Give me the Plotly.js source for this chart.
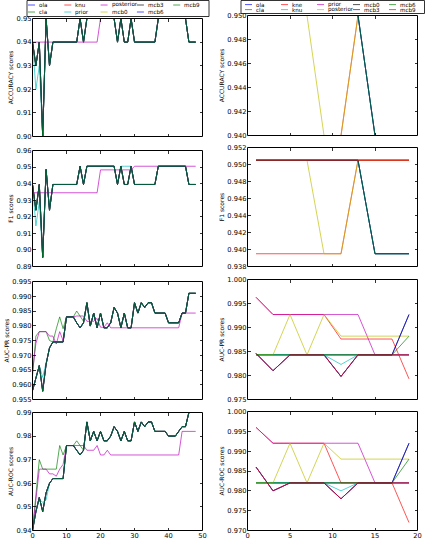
<!DOCTYPE html>
<html>
<head>
<meta charset="utf-8">
<script src="https://cdn.plot.ly/plotly-3.0.1.min.js"></script>
<style>
html, body { margin: 0; padding: 0; background: #fff; }
#chart { width: 425px; height: 544px; }
</style>
</head>
<body>
<div id="chart"></div>
<script>
// ---- Left figure: scores over 49 steps ----
const leftX = [0,1,2,3,4,5,6,7,8,9,10,11,12,13,14,15,16,17,18,19,20,21,22,23,24,25,26,27,28,29,30,31,32,33,34,35,36,37,38,39,40,41,42,43,44,45,46,47,48];
const leftNames = ['ola','cla','knu','prior','posterior','mcb0','mcb3','mcb6','mcb9'];

const accMain = [0.94,0.93,0.94,0.90,0.95,0.93,0.94,0.94,0.94,0.94,
  0.94,0.94,0.94,0.94,0.95,0.94,0.95,0.95,0.95,0.95,
  0.95,0.95,0.95,0.95,0.95,0.94,0.95,0.94,0.94,0.95,
  0.94,0.94,0.94,0.94,0.94,0.94,0.94,0.95,0.95,0.95,
  0.95,0.95,0.95,0.95,0.95,0.95,0.94,0.94,0.94];
const accPrior = [0.94,0.92,0.93,0.90,0.95,0.93,0.94,0.94,0.94,0.94,
  0.94,0.94,0.94,0.94,0.95,0.94,0.95,0.95,0.95,0.95,
  0.95,0.95,0.95,0.95,0.95,0.94,0.95,0.95,0.95,0.95,
  0.94,0.94,0.94,0.94,0.94,0.94,0.94,0.95,0.95,0.95,
  0.95,0.95,0.95,0.95,0.95,0.95,0.94,0.94,0.94];
const accPosterior = [0.94,0.94,0.94,0.94,0.94,0.94,0.94,0.94,0.94,0.94,
  0.94,0.94,0.94,0.94,0.94,0.94,0.94,0.94,0.94,0.94,
  0.95,0.95,0.95,0.95,0.95,0.95,0.95,0.95,0.95,0.95,
  0.95,0.95,0.95,0.95,0.95,0.95,0.95,0.95,0.95,0.95,
  0.95,0.95,0.95,0.95,0.95,0.95,0.95,0.95,0.95];

const f1Main = [0.9395,0.924,0.9395,0.8955,0.9485,0.924,0.9395,0.9395,0.9395,0.9395,
  0.9395,0.9395,0.9395,0.9395,0.9505,0.9395,0.9505,0.9505,0.9505,0.9505,
  0.9505,0.9505,0.9505,0.9505,0.9505,0.9395,0.9505,0.9395,0.9395,0.9505,
  0.9395,0.9395,0.9395,0.9395,0.9395,0.9395,0.9395,0.9505,0.9505,0.9505,
  0.9505,0.9505,0.9505,0.9505,0.9505,0.9505,0.9395,0.9395,0.9395];
const f1Prior = [0.9395,0.9145,0.929,0.8955,0.9485,0.924,0.9395,0.9395,0.9395,0.9395,
  0.9395,0.9395,0.9395,0.9395,0.9505,0.9395,0.9505,0.9505,0.9505,0.9505,
  0.9505,0.9505,0.9505,0.9505,0.9505,0.9395,0.9505,0.9505,0.9505,0.9505,
  0.9395,0.9395,0.9395,0.9395,0.9395,0.9395,0.9395,0.9505,0.9505,0.9505,
  0.9505,0.9505,0.9505,0.9505,0.9505,0.9505,0.9395,0.9395,0.9395];
const f1Posterior = [0.9345,0.9345,0.9345,0.9345,0.9345,0.9345,0.9345,0.9345,0.9345,0.9345,
  0.9345,0.9345,0.9345,0.9345,0.9345,0.9345,0.9345,0.9345,0.9345,0.9345,
  0.9483,0.9483,0.9483,0.9483,0.9483,0.9483,0.9483,0.9483,0.9483,0.9483,
  0.9505,0.9505,0.9505,0.9505,0.9505,0.9505,0.9505,0.9505,0.9505,0.9505,
  0.9505,0.9505,0.9505,0.9505,0.9505,0.9505,0.9505,0.9505,0.9505];

const prMain = [0.958,0.9625,0.9665,0.9578,0.967,0.9725,0.9745,0.9745,0.9745,0.9745,
  0.983,0.983,0.983,0.981,0.9793,0.981,0.9878,0.9799,0.9843,0.9793,
  0.9843,0.9793,0.9793,0.981,0.9862,0.9843,0.9793,0.9843,0.9793,0.9793,
  0.9878,0.9843,0.9878,0.9862,0.9878,0.9878,0.9843,0.9843,0.9843,0.9843,
  0.981,0.981,0.981,0.981,0.9843,0.9843,0.991,0.991,0.991];
const prCla = [0.963,0.9765,0.978,0.978,0.978,0.975,0.9745,0.979,0.983,0.979,
  0.983,0.983,0.983,0.985,0.983,0.9815,0.9878,0.9799,0.9843,0.9793,
  0.9843,0.9793,0.9793,0.981,0.9862,0.9843,0.9793,0.9843,0.9793,0.9793,
  0.9878,0.9843,0.9878,0.9862,0.9878,0.9878,0.9843,0.9843,0.9843,0.9843,
  0.981,0.981,0.981,0.981,0.9843,0.9843,0.991,0.991,0.991];
const prPrior = [0.958,0.9625,0.9665,0.9625,0.967,0.9725,0.9745,0.9745,0.9745,0.9745,
  0.983,0.983,0.983,0.981,0.9793,0.981,0.9878,0.9799,0.9843,0.9793,
  0.9843,0.9793,0.9793,0.981,0.9862,0.9843,0.9793,0.9843,0.9793,0.9793,
  0.9878,0.9843,0.9878,0.9862,0.9878,0.9878,0.9843,0.9843,0.9843,0.9843,
  0.981,0.981,0.981,0.981,0.9843,0.9843,0.991,0.991,0.991];
const prPosterior = [0.9644,0.974,0.978,0.978,0.978,0.9765,0.9765,0.9738,0.978,0.975,
  0.983,0.983,0.983,0.9833,0.9833,0.9833,0.9815,0.9815,0.9815,0.9825,
  0.9795,0.9795,0.981,0.9793,0.9793,0.9793,0.9793,0.9793,0.9793,0.9793,
  0.9793,0.9793,0.9793,0.9793,0.9793,0.9793,0.9793,0.9793,0.9793,0.9793,
  0.9793,0.9793,0.9793,0.9793,0.9843,0.9843,0.9843,0.9843,0.9843];

const rocMain = [0.94,0.948,0.954,0.948,0.956,0.960,0.962,0.962,0.962,0.962,
  0.976,0.976,0.976,0.974,0.972,0.974,0.986,0.978,0.982,0.978,
  0.982,0.978,0.978,0.980,0.984,0.982,0.978,0.982,0.978,0.978,
  0.986,0.982,0.986,0.984,0.986,0.986,0.982,0.982,0.982,0.982,
  0.980,0.980,0.980,0.982,0.984,0.984,0.990,0.990,0.990];
const rocCla = [0.94,0.955,0.970,0.966,0.966,0.966,0.966,0.966,0.976,0.972,
  0.976,0.976,0.976,0.978,0.976,0.974,0.986,0.978,0.982,0.978,
  0.982,0.978,0.978,0.980,0.984,0.982,0.978,0.982,0.978,0.978,
  0.986,0.982,0.986,0.984,0.986,0.986,0.982,0.982,0.982,0.982,
  0.980,0.980,0.980,0.982,0.984,0.984,0.990,0.990,0.990];
const rocPrior = [0.94,0.948,0.953,0.952,0.953,0.960,0.962,0.962,0.962,0.962,
  0.976,0.976,0.976,0.974,0.972,0.974,0.986,0.978,0.982,0.978,
  0.982,0.978,0.978,0.980,0.984,0.982,0.978,0.982,0.978,0.978,
  0.986,0.982,0.986,0.984,0.986,0.986,0.982,0.982,0.982,0.982,
  0.980,0.980,0.980,0.982,0.984,0.984,0.990,0.990,0.990];
const rocPosterior = [0.94,0.952,0.966,0.966,0.966,0.964,0.964,0.963,0.966,0.968,
  0.976,0.976,0.976,0.976,0.976,0.976,0.974,0.974,0.974,0.976,
  0.972,0.972,0.974,0.972,0.972,0.972,0.972,0.972,0.972,0.972,
  0.972,0.972,0.972,0.972,0.972,0.972,0.972,0.972,0.972,0.972,
  0.972,0.972,0.972,0.972,0.982,0.982,0.982,0.982,0.982];

// ---- Right figure: scores at odd steps 1..19 ----
const rightX = [1,3,5,7,9,11,13,15,17,19];
const rightNames = ['ola','cla','kne','knu','prior','posterior','mcb0','mcb3','mcb6','mcb9'];

const rAccHigh      = [0.95,0.95,0.95,0.95,0.95,0.95,0.95,0.95,0.95,0.95];
const rAccKne       = [0.94,0.94,0.94,0.94,0.94,0.94,0.95,0.95,0.95,0.95];
const rAccLate      = [0.95,0.95,0.95,0.95,0.95,0.95,0.95,0.94,0.94,0.94];
const rAccPosterior = [0.95,0.95,0.95,0.95,0.94,0.94,0.95,0.95,0.95,0.95];

const rF1High      = [0.9505,0.9505,0.9505,0.9505,0.9505,0.9505,0.9505,0.9505,0.9505,0.9505];
const rF1Kne       = [0.9395,0.9395,0.9395,0.9395,0.9395,0.9395,0.9505,0.9505,0.9505,0.9505];
const rF1Late      = [0.9505,0.9505,0.9505,0.9505,0.9505,0.9505,0.9505,0.9395,0.9395,0.9395];
const rF1Posterior = [0.9505,0.9505,0.9505,0.9505,0.9395,0.9395,0.9505,0.9505,0.9505,0.9505];

const rPrFlat      = [0.9843,0.9843,0.9843,0.9843,0.9843,0.9843,0.9843,0.9843,0.9843,0.9843];
const rPrKne       = [0.9963,0.9927,0.9927,0.9927,0.9927,0.9876,0.9876,0.9876,0.9876,0.9793];
const rPrKnu       = [0.9843,0.9843,0.9843,0.9843,0.9843,0.9823,0.9843,0.9843,0.9843,0.9843];
const rPrPrior     = [0.9963,0.9927,0.9927,0.9927,0.9927,0.9927,0.9927,0.9843,0.9843,0.9843];
const rPrPosterior = [0.9843,0.9843,0.9927,0.9843,0.9927,0.9882,0.9882,0.9882,0.9882,0.9882];
const rPrMcb       = [0.9846,0.9810,0.9843,0.9843,0.9843,0.9798,0.9843,0.9843,0.9843,0.9927];
const rPrMcb6      = [0.9843,0.9843,0.9843,0.9843,0.9843,0.9843,0.9843,0.9843,0.9843,0.9882];
const rPrMcb9      = [0.9846,0.9810,0.9843,0.9843,0.9843,0.9798,0.9843,0.9843,0.9843,0.9843];

const rRocFlat      = [0.982,0.982,0.982,0.982,0.982,0.982,0.982,0.982,0.982,0.982];
const rRocKne       = [0.996,0.992,0.992,0.992,0.992,0.982,0.982,0.982,0.982,0.972];
const rRocKnu       = [0.982,0.982,0.982,0.982,0.982,0.980,0.982,0.982,0.982,0.982];
const rRocPrior     = [0.996,0.992,0.992,0.992,0.992,0.992,0.992,0.982,0.982,0.982];
const rRocPosterior = [0.982,0.982,0.992,0.982,0.992,0.988,0.988,0.988,0.988,0.988];
const rRocMcb       = [0.986,0.980,0.982,0.982,0.982,0.978,0.982,0.982,0.982,0.992];
const rRocMcb6      = [0.982,0.982,0.982,0.982,0.982,0.982,0.982,0.982,0.982,0.988];
const rRocMcb9      = [0.986,0.980,0.982,0.982,0.982,0.978,0.982,0.982,0.982,0.982];

// series -> [accuracy, f1, auc-pr, auc-roc]
const leftData = {
  ola:       [accMain, f1Main, prMain, rocMain],
  cla:       [accMain, f1Main, prCla, rocCla],
  knu:       [accMain, f1Main, prMain, rocMain],
  prior:     [accPrior, f1Prior, prPrior, rocPrior],
  posterior: [accPosterior, f1Posterior, prPosterior, rocPosterior],
  mcb0:      [accMain, f1Main, prMain, rocMain],
  mcb3:      [accMain, f1Main, prMain, rocMain],
  mcb6:      [accMain, f1Main, prMain, rocMain],
  mcb9:      [accMain, f1Main, prMain, rocMain]
};
const rightData = {
  ola:       [rAccHigh, rF1High, rPrFlat, rRocFlat],
  cla:       [rAccHigh, rF1High, rPrFlat, rRocFlat],
  kne:       [rAccKne, rF1Kne, rPrKne, rRocKne],
  knu:       [rAccLate, rF1Late, rPrKnu, rRocKnu],
  prior:     [rAccHigh, rF1High, rPrPrior, rRocPrior],
  posterior: [rAccPosterior, rF1Posterior, rPrPosterior, rRocPosterior],
  mcb0:      [rAccLate, rF1Late, rPrMcb, rRocMcb],
  mcb3:      [rAccLate, rF1Late, rPrMcb, rRocMcb],
  mcb6:      [rAccLate, rF1Late, rPrMcb6, rRocMcb6],
  mcb9:      [rAccHigh, rF1High, rPrMcb9, rRocMcb9]
};

const metricTitles = ['ACCURACY scores', 'F1 scores', 'AUC-PR scores', 'AUC-ROC scores'];
const leftRanges  = [[0.90, 0.95], [0.89, 0.96], [0.955, 0.995], [0.94, 0.99]];
const leftSteps   = [0.01, 0.01, 0.005, 0.01];
const leftFormats = ['.2f', '.2f', '.3f', '.2f'];
const rightRanges = [[0.940, 0.950], [0.938, 0.952], [0.975, 1.000], [0.970, 1.000]];
const rightSteps  = [0.002, 0.002, 0.005, 0.005];

// classic b g r c m y k colour cycle
const cycle = ['#0000ff', '#008000', '#ff0000', '#00bfbf', '#bf00bf', '#bfbf00', '#000000'];

// ---- page geometry (pixels; edges on half pixels so the 1px frame is crisp) ----
const W = 425, H = 544;
const px = v => v / W;
const py = v => 1 - v / H;
const leftCols  = [32.5, 202.5];
const rightCols = [247.5, 417.5];
const leftRows  = [[18.5, 136.5], [150.5, 266.5], [281.5, 399.5], [412.5, 530.5]];
const rightRows = [[15.5, 135.5], [147.5, 266.5], [279.5, 399.5], [411.5, 530.5]];

const FONT = 'DejaVu Sans, sans-serif';
const traces = [];
const layout = {
  width: W, height: H,
  margin: {l: 0, r: 0, t: 0, b: 0},
  paper_bgcolor: '#fff', plot_bgcolor: '#fff',
  showlegend: false,
  font: {family: FONT, color: '#000'},
  shapes: [], annotations: []
};

function axisBase() {
  return {
    showline: false, mirror: 'allticks',
    ticks: 'inside', ticklen: 3, tickwidth: 0.8, tickcolor: '#000',
    showgrid: false, zeroline: false, fixedrange: true,
    tickfont: {family: FONT, size: 6.7, color: '#000'}
  };
}

function addFigure(offset, names, data, xs, cols, rows, ranges, steps, formats, xRange, xStep) {
  for (let m = 0; m < 4; m++) {
    const n = offset + m + 1;
    const sfx = n === 1 ? '' : String(n);
    const xr = 'x' + sfx, yr = 'y' + sfx;
    layout['xaxis' + sfx] = Object.assign(axisBase(), {
      domain: [px(cols[0]), px(cols[1])], anchor: yr,
      range: xRange, dtick: xStep, tick0: 0,
      showticklabels: m === 3
    });
    layout['yaxis' + sfx] = Object.assign(axisBase(), {
      domain: [py(rows[m][1]), py(rows[m][0])], anchor: xr,
      range: ranges[m], dtick: steps[m], tick0: 0,
      tickformat: formats[m],
      title: {text: metricTitles[m], font: {family: FONT, size: 6, color: '#000'}, standoff: 2}
    });
    // frame drawn on the plot edge so lines lying on a limit sit under it
    layout.shapes.push({
      type: 'rect', xref: xr + ' domain', yref: yr + ' domain', layer: 'above',
      x0: 0, x1: 1, y0: 0, y1: 1,
      line: {color: '#000', width: 1}, fillcolor: 'rgba(0,0,0,0)'
    });
    names.forEach((name, i) => {
      traces.push({
        x: xs, y: data[name][m], xaxis: xr, yaxis: yr,
        type: 'scatter', mode: 'lines', name: name,
        line: {color: cycle[i % cycle.length], width: 0.9},
        opacity: 0.75, hoverinfo: 'skip'
      });
    });
  }
}

addFigure(0, leftNames, leftData, leftX, leftCols, leftRows,
  leftRanges, leftSteps, leftFormats, [0, 50], 10);
addFigure(4, rightNames, rightData, rightX, rightCols, rightRows,
  rightRanges, rightSteps, ['.3f', '.3f', '.3f', '.3f'], [0, 20], 5);

// ---- legends: five columns, two rows, filled column by column ----
function addLegend(names, box, firstX, colStep, rowYs) {
  layout.shapes.push({
    type: 'rect', xref: 'paper', yref: 'paper', layer: 'above',
    x0: px(box[0]), x1: px(box[1]), y0: py(box[3]), y1: py(box[2]),
    line: {color: '#000', width: 0.8}, fillcolor: '#fff'
  });
  names.forEach((name, i) => {
    const col = Math.floor(i / 2), row = i % 2;
    const x0 = firstX + col * colStep, y = rowYs[row];
    layout.shapes.push({
      type: 'line', xref: 'paper', yref: 'paper', layer: 'above',
      x0: px(x0), x1: px(x0 + 7), y0: py(y), y1: py(y),
      line: {color: cycle[i % cycle.length], width: 0.9}, opacity: 0.75
    });
    layout.annotations.push({
      xref: 'paper', yref: 'paper', x: px(x0 + 10), y: py(y),
      xanchor: 'left', yanchor: 'middle', showarrow: false,
      text: name, borderpad: 0,
      font: {family: FONT, size: 5.6, color: '#000'}
    });
  });
}
addLegend(leftNames, [27, 209, 0.5, 16.5], 28, 36.3, [5, 12]);
addLegend(rightNames, [241, 424.5, 0.5, 13.5], 245, 36, [4.6, 9.6]);

Plotly.newPlot('chart', traces, layout, {staticPlot: true, displayModeBar: false});
</script>
</body>
</html>
